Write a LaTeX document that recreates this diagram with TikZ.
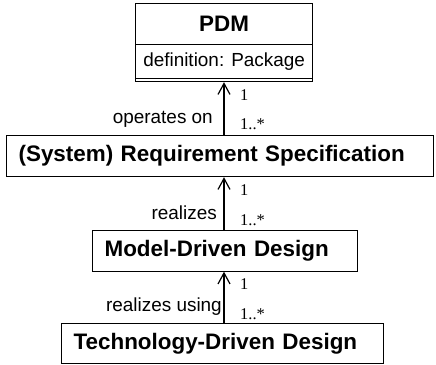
\documentclass[tikz,border=0pt]{standalone}
\usepackage{fontspec}
\setmainfont{Liberation Serif}
\setsansfont{Liberation Sans}
\usetikzlibrary{arrows.meta}
\begin{document}
\begin{tikzpicture}[x=1bp,y=-1bp,
  box/.style={draw, line width=1.2bp, inner sep=0pt, anchor=north west,
    font=\sffamily\bfseries\fontsize{22.5}{24}\selectfont},
  lbox/.style={box, inner xsep=12bp, align=left},
  attrbox/.style={draw, line width=1.2bp, inner sep=0pt, anchor=north west,
    font=\sffamily\fontsize{19}{21}\selectfont},
  assoc/.style={line width=1.2bp, -{Straight Barb[length=11bp,width=12bp,line width=1.2bp]}},
  rolelbl/.style={inner sep=0pt, anchor=base west, font=\rmfamily\fontsize{16.5}{18}\selectfont},
  assoclbl/.style={inner sep=0pt, anchor=base east, font=\sffamily\fontsize{19}{21}\selectfont}]
\useasboundingbox (0,0) rectangle (436,364);
% PDM class
\node[box, minimum width=177bp, minimum height=41bp] (pdm) at (135,3) {PDM};
\node[attrbox, minimum width=177bp, minimum height=34bp] (pdmattr) at (135,44) {definition: Package};
\node[attrbox, minimum width=177bp, minimum height=3bp] (pdmops) at (135,78) {};
% other classes
\node[lbox, text width=403bp, minimum height=41bp] (rs) at (6,135) {(System) Requirement Specification};
\node[lbox, text width=241bp, minimum height=41bp] (mdd) at (92,229.5) {Model-Driven Design};
\node[lbox, text width=298bp, minimum height=40bp] (tdd) at (61,323) {Technology-Driven Design};
% connectors
\coordinate (a1) at (224,135);
\coordinate (a1t) at (224,81);
\coordinate (a2) at (224,229.5);
\coordinate (a2t) at (224,176);
\coordinate (a3) at (224,323);
\coordinate (a3t) at (224,270.5);
\draw[assoc] (rs.north -| a1) -- (pdmops.south -| a1t);
\draw[assoc] (mdd.north -| a2) -- (rs.south -| a2t);
\draw[assoc] (tdd.north -| a3) -- (mdd.south -| a3t);
% labels
\node[assoclbl] (l1) at (213,123) {operates on};
\node[rolelbl] (m1a) at (240,100) {1};
\node[rolelbl] (m1b) at (240,129) {1..*};
\node[assoclbl] (l2) at (217,219) {realizes};
\node[rolelbl] (m2a) at (240,195) {1};
\node[rolelbl] (m2b) at (240,225) {1..*};
\node[assoclbl] (l3) at (222,311) {realizes using};
\node[rolelbl] (m3a) at (240,289) {1};
\node[rolelbl] (m3b) at (240,319) {1..*};
\end{tikzpicture}
\end{document}
